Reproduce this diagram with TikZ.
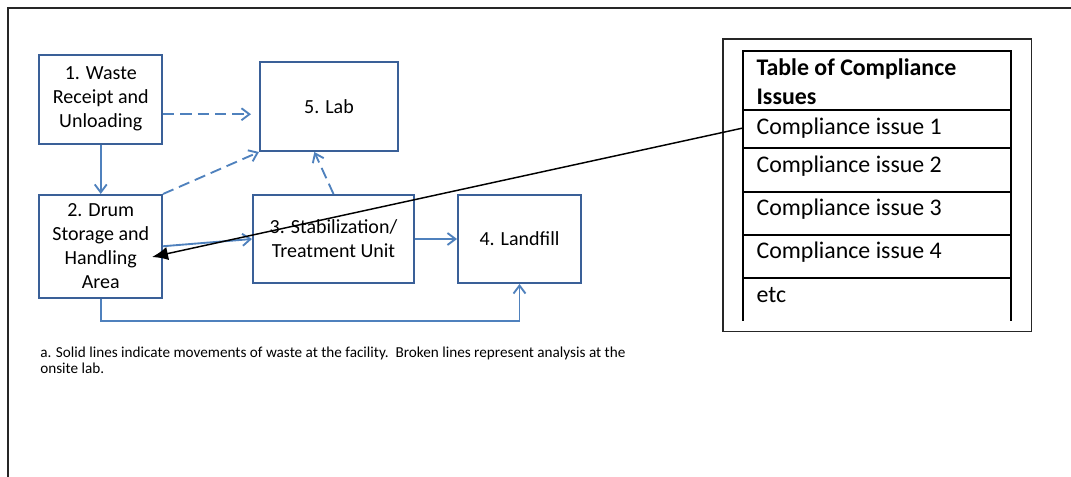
\documentclass[tikz,border=0pt]{standalone}
\usepackage{fontspec}
\setmainfont{Carlito}
\usetikzlibrary{calc, positioning}
\usetikzlibrary{arrows.meta}
\definecolor{boxblue}{RGB}{58,96,152}
\definecolor{flowblue}{RGB}{79,129,189}

\begin{document}
\begin{tikzpicture}[x=0.75pt,y=-0.75pt,
    stage/.style={draw=boxblue,line width=1.5pt,align=center,inner sep=0pt,
        font=\fontsize{15}{18}\selectfont},
    flow/.style={draw=flowblue,line width=1.4pt,
        -{Straight Barb[length=6pt,width=9pt]}},
    probe/.style={flow,dash pattern=on 8.5pt off 4.5pt},
    row/.style={anchor=west,inner xsep=10pt,inner ysep=0pt,
        font=\fontsize{17.9}{21.75}\selectfont}]
\useasboundingbox (0,0) rectangle (1071,477);

% outer frame
\draw[line width=1.6pt,black!85] (1071,8) -- (8,8) -- (8,477);

% process boxes
\node[stage,minimum width=91.9pt,minimum height=66.4pt] (W) at (100.75,99.25)
    {1. Waste\\Receipt and\\Unloading};
\node[stage,minimum width=103.5pt,minimum height=66.75pt] (L) at (329,106.5)
    {5. Lab};
\node[stage,minimum width=91.9pt,minimum height=76.9pt] (D) at (100.75,246.25)
    {2. Drum\\Storage and\\Handling\\Area};
\node[stage,minimum width=120.75pt,minimum height=66pt] (S) at (333.5,239)
    {3. Stabilization/\\Treatment Unit};
\node[stage,minimum width=92.25pt,minimum height=66pt] (F) at (519.5,239)
    {4. Landfill};

% movements of waste
\draw[flow] (W) -- (D);
\draw[flow] (D.east) -- (S.west);
\draw[flow] (S) -- (F);
\draw[flow] (D.south) -- ++(0,22.5) -| (F.south);

% analysis at the lab
\coordinate (a) at ($(W.east)+(0,15)$);
\draw[probe,shorten >=6pt] (a) -- (a -| L.west);
\draw[probe] (D.north east) -- (L.south west);
\draw[probe] (S.north) -- ([xshift=-11pt]L.south);

\node[anchor=west,inner sep=0pt,align=left,
    font=\fontsize{11.4}{12}\selectfont] (note) at (40,360)
    {a. Solid lines indicate movements of waste at the facility.\ \ Broken lines represent analysis at the\\onsite lab.};

% compliance table
\draw[line width=1.3pt,black!85] (723,39) rectangle (1031.5,331.5);
\draw[line width=1.5pt] (743,320.7) -- (743,50.7) -- (1011,50.7) -- (1011,320.7);
\foreach \y in {110.3,148,191.7,235,278.3}
    \draw[line width=1.5pt] (743,\y) -- (1011,\y);

\node[row,align=left,font=\fontsize{17.9}{21.75}\selectfont\bfseries] (head)
    at (743,81.5) {Table of Compliance\\Issues};
\node[row] (row1) at (743,128) {Compliance issue 1};
\node[row] (row2) at (743,166) {Compliance issue 2};
\node[row] (row3) at (743,209) {Compliance issue 3};
\node[row] (row4) at (743,252) {Compliance issue 4};
\node[row] (row5) at (743,295) {etc};

\coordinate (tip) at (152,257);
\draw[line width=1.1pt,-{Latex[length=12pt,width=10pt]}] (row1.west) -- (tip);
\end{tikzpicture}
\end{document}
